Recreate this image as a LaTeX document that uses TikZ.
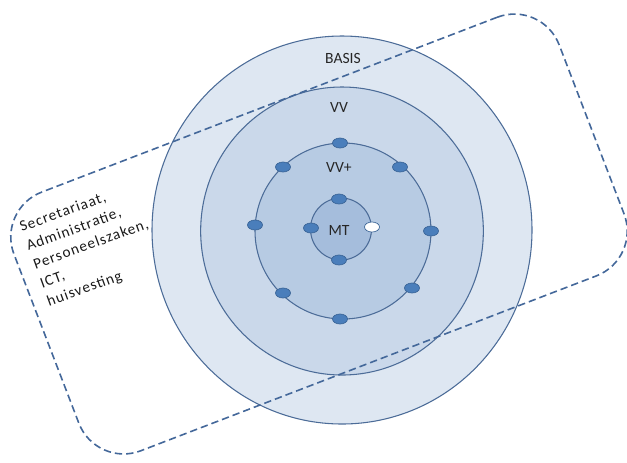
\documentclass[tikz,border=0pt]{standalone}
\usepackage{fontspec}
\setmainfont{Carlito}
\usetikzlibrary{shapes.geometric}
\definecolor{ringA}{HTML}{DEE7F2}
\definecolor{ringB}{HTML}{CAD8EA}
\definecolor{ringC}{HTML}{B7CBE3}
\definecolor{ringD}{HTML}{A5BDDC}
\definecolor{ringline}{HTML}{4C6C98}
\definecolor{dotfill}{HTML}{4A7EBB}
\definecolor{dotline}{HTML}{3A6496}
\definecolor{dashline}{HTML}{44689A}
\tikzset{
  ring/.style={ellipse, draw=ringline, line width=0.8pt, inner sep=0pt},
  member/.style={ellipse, fill=dotfill, draw=dotline, line width=0.5pt,
    minimum width=11.25pt, minimum height=7.5pt, inner sep=0pt},
  vacant/.style={member, fill=white},
  ringlabel/.style={font=\fontsize{11.7}{14}\selectfont, text=black!85, inner sep=0pt},
  groupbox/.style={draw=dashline, line width=1.2pt, dash pattern=on 5.5pt off 3pt,
    rounded corners=36pt, inner sep=0pt},
  grouptext/.style={font=\fontsize{11.4}{14.9}\selectfont\addfontfeatures{LetterSpace=7},
    align=left, inner sep=0pt, text=black!90}
}
\begin{document}
\begin{tikzpicture}[x=0.75pt,y=-0.75pt]
  \useasboundingbox (0,0) rectangle (627,462);

  % nested rings
  \node[ring, fill=ringA, minimum width=285pt, minimum height=291pt] (basis) at (342,230) {};
  \node[ring, fill=ringB, minimum width=212pt, minimum height=216pt] (vv) at (342,231) {};
  \node[ring, fill=ringC, minimum width=132pt, minimum height=132pt] (vvplus) at (343,231) {};
  \node[ring, fill=ringD, minimum width=45.75pt, minimum height=46.5pt] (mt) at (341,229) {};

  % ring labels
  \node[ringlabel] (lbasis) at (343,58) {BASIS};
  \node[ringlabel] (lvv) at (339,107) {VV};
  \node[ringlabel] (lvvplus) at (339,167) {VV+};
  \node[ringlabel] (lmt) at (339,230) {MT};

  % members on the VV+ ring
  \node[member] (v1) at (340,143) {};
  \node[member] (v2) at (283,167) {};
  \node[member] (v3) at (400,167) {};
  \node[member] (v4) at (255,225) {};
  \node[member] (v5) at (431,231) {};
  \node[member] (v6) at (283,293) {};
  \node[member] (v7) at (412,288) {};
  \node[member] (v8) at (340,319) {};

  % members on the MT ring
  \node[member] (m1) at (339,199) {};
  \node[member] (m2) at (311,228) {};
  \node[member] (m3) at (339,260) {};
  \node[vacant] (m4) at (372,227) {};

  % support services group
  \node[groupbox, minimum width=438pt, minimum height=207.75pt, rotate=21] (group) at (319,234) {};
  \node[grouptext, rotate=20, anchor=north west] (services) at (18,222)
    {Secretariaat,\\Administratie,\\Personeelszaken,\\ICT,\\huisvesting};
\end{tikzpicture}
\end{document}
